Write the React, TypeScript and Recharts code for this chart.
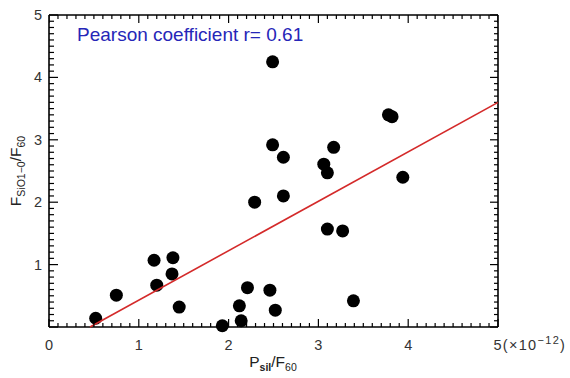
import React from "react";
import { ScatterChart, Scatter, XAxis, YAxis, ReferenceLine } from "recharts";

// P_sil/F_60 (x 1e-12) vs F_SiO1-0/F_60
const ratioX = [
  0.52, 0.75, 1.17, 1.38, 1.37, 1.2, 1.45, 1.93, 2.12, 2.14, 2.21, 2.29, 2.46, 2.52,
  2.49, 2.49, 2.61, 2.61, 3.06, 3.1, 3.17, 3.1, 3.27, 3.39, 3.78, 3.82, 3.94,
];
const ratioY = [
  0.14, 0.51, 1.07, 1.11, 0.85, 0.67, 0.32, 0.02, 0.34, 0.1, 0.63, 2.0, 0.59, 0.27,
  4.25, 2.92, 2.72, 2.1, 2.61, 2.47, 2.88, 1.57, 1.54, 0.42, 3.4, 3.37, 2.4,
];
// least-squares fit endpoints
const fitX = [0.457, 5];
const fitY = [0, 3.6];

const majorTicks = [0, 1, 2, 3, 4, 5];
const minorTicks = Array.from({ length: 51 }, (_, i) => i / 10);

const points = ratioX.map((x, i) => ({ x, y: ratioY[i] }));
const fit = fitX.map((x, i) => ({ x, y: fitY[i] }));

const isMajor = (v: number) => Math.abs(v - Math.round(v)) < 1e-6;
// inward tick marks on top, left and right sides
const tickMarks = minorTicks.flatMap((v) => {
  const len = isMajor(v) ? 8 : 4;
  return [
    { x: v, y: 5, side: "t", len },
    { x: 0, y: v, side: "l", len },
    { x: 5, y: v, side: "r", len },
  ];
});

const FONT = "'Liberation Sans', Arial, sans-serif";
const W = 570;
const H = 378;

function BottomTick(props: any) {
  const { x, y, payload } = props;
  const v = payload.value;
  const major = isMajor(v);
  let label: any = null;
  if (major && v === 5) {
    label = (
      <text x={x - 4.5} y={y + 23} fontSize={14.5} fill="#333" fontFamily={FONT} letterSpacing={1.3}>
        5(×10<tspan dy={-6} fontSize={11}>−12</tspan>
        <tspan dy={6} fontSize={14.5}>)</tspan>
      </text>
    );
  } else if (major) {
    label = (
      <text x={x} y={y + 23} fontSize={14.5} fill="#333" fontFamily={FONT} textAnchor="middle">
        {v}
      </text>
    );
  }
  return (
    <g>
      <line x1={x} y1={y} x2={x} y2={y - (major ? 8 : 4)} stroke="#000" strokeWidth={1.2} />
      {label}
    </g>
  );
}

function LeftTick(props: any) {
  const { x, y, payload } = props;
  const v = payload.value;
  if (v === 0) return <g />;
  return (
    <text x={x - 7} y={y + 5} fontSize={14.5} fill="#333" fontFamily={FONT} textAnchor="end">
      {v}
    </text>
  );
}

const Dot = (props: any) => <circle cx={props.cx} cy={props.cy} r={6.5} fill="#000" />;
const NoDot = () => <g />;

function TickMark(props: any) {
  const { cx, cy, payload } = props;
  const { side, len } = payload;
  if (side === "t") return <line x1={cx} y1={cy} x2={cx} y2={cy + len} stroke="#000" strokeWidth={1.2} />;
  if (side === "l") return <line x1={cx} y1={cy} x2={cx + len + 1} y2={cy} stroke="#000" strokeWidth={1.2} />;
  return <line x1={cx} y1={cy} x2={cx - len} y2={cy} stroke="#000" strokeWidth={1.2} />;
}

export default function App() {
  const axisLine = { stroke: "#000", strokeWidth: 1.6 };
  return (
    <div style={{ position: "absolute", left: 0, top: 0, width: W, height: H }}>
      <svg width={W} height={H} style={{ position: "absolute", left: 0, top: 0 }}>
        <text x={77} y={41} fontSize={19} fill="#2626b8" fontFamily={FONT}>
          Pearson coefficient r= 0.61
        </text>
        <text x={273} y={367} fontSize={15.5} fill="#222" fontFamily={FONT} textAnchor="middle">
          P<tspan fontSize={10.5} dy={4} fontWeight="bold">sil</tspan>
          <tspan fontSize={15.5} dy={-4}>/F</tspan>
          <tspan fontSize={10.5} dy={4}>60</tspan>
        </text>
        <text
          transform="translate(21,171) rotate(-90)"
          fontSize={15.5}
          fill="#222"
          fontFamily={FONT}
          textAnchor="middle"
        >
          F<tspan fontSize={10.5} dy={4}>SiO1−0</tspan>
          <tspan fontSize={15.5} dy={-4}>/F</tspan>
          <tspan fontSize={10.5} dy={4}>60</tspan>
        </text>
      </svg>
      <ScatterChart width={W} height={H} margin={{ top: 15, right: 72, bottom: 0, left: 0 }}>
        <XAxis
          xAxisId="b"
          type="number"
          dataKey="x"
          domain={[0, 5]}
          ticks={minorTicks}
          interval={0}
          allowDataOverflow
          height={51}
          tickSize={0}
          tickMargin={0}
          tickLine={false}
          axisLine={axisLine}
          tick={<BottomTick />}
        />
        <YAxis
          yAxisId="l"
          type="number"
          dataKey="y"
          domain={[0, 5]}
          ticks={majorTicks}
          interval={0}
          width={49}
          tickSize={0}
          tickMargin={0}
          tickLine={false}
          axisLine={axisLine}
          tick={<LeftTick />}
        />
        <ReferenceLine xAxisId="b" yAxisId="l" y={5} stroke="#000" strokeWidth={1.6} ifOverflow="visible" />
        <ReferenceLine xAxisId="b" yAxisId="l" x={5} stroke="#000" strokeWidth={1.6} ifOverflow="visible" />
        <Scatter
          xAxisId="b"
          yAxisId="l"
          data={tickMarks}
          shape={<TickMark />}
          isAnimationActive={false}
        />
        <Scatter xAxisId="b" yAxisId="l" data={points} shape={<Dot />} isAnimationActive={false} />
        <Scatter
          xAxisId="b"
          yAxisId="l"
          data={fit}
          line={{ stroke: "#d42a2a", strokeWidth: 1.6 }}
          shape={<NoDot />}
          isAnimationActive={false}
        />
      </ScatterChart>
    </div>
  );
}
